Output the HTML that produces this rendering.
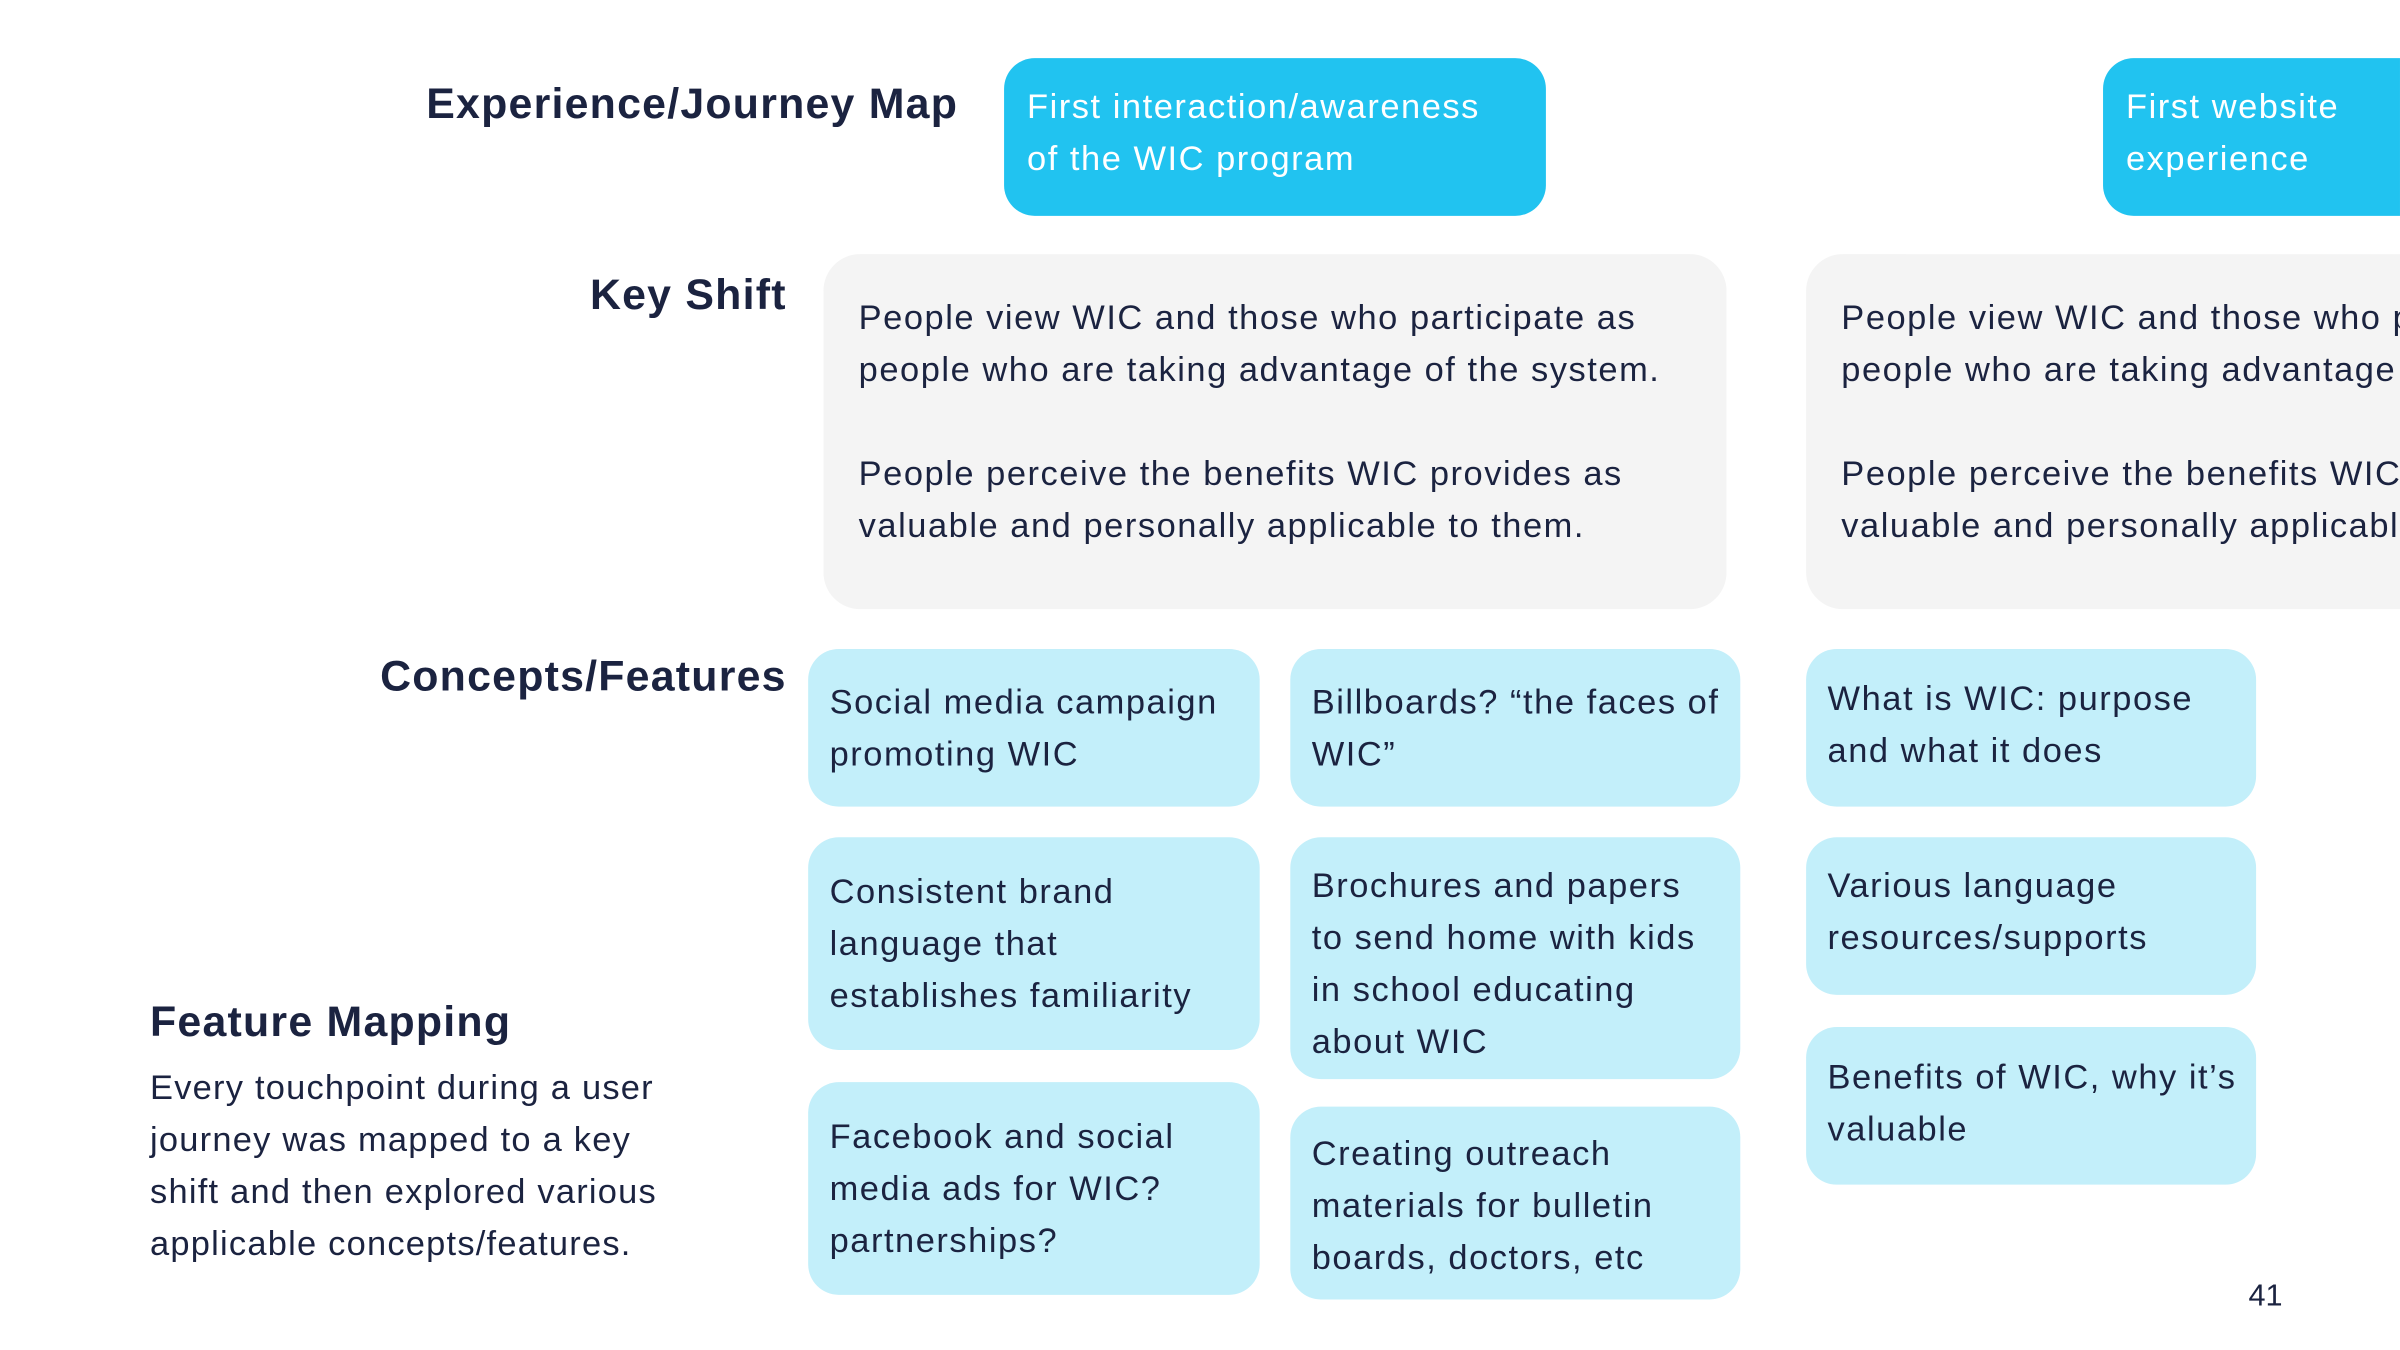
<!DOCTYPE html>
<html><head><meta charset="utf-8"><style>
html,body{margin:0;padding:0;background:#fff;width:2400px;height:1350px;overflow:hidden}
#w{position:absolute;left:0;top:0;width:2400px;height:1350px;overflow:hidden}
#s{position:absolute;left:0;top:0;width:1568px;height:882px;overflow:hidden;transform:scale(1.5306);transform-origin:0 0;font-family:"Liberation Sans",sans-serif;color:#1b2340}
.h{position:absolute;font-weight:bold;font-size:28px;white-space:nowrap;line-height:34px;letter-spacing:0.8px}
.b{position:absolute;border-radius:20px;box-sizing:border-box;font-size:22.5px;line-height:34px;white-space:nowrap;padding-left:15px;letter-spacing:1px}
.blue{background:#21c3f0;color:#fff;padding-top:15px}
.grey{background:#f4f4f4;padding-left:23px;padding-top:25px;border-radius:24px}
.c{background:#c3effa;display:flex;flex-direction:column;justify-content:center;padding-left:14px}
</style></head><body><div id="w"><div id="s">
<div class="h" style="right:942px;top:51px">Experience/Journey Map</div>
<div class="h" style="right:1054px;top:176px">Key Shift</div>
<div class="h" style="right:1054px;top:425px">Concepts/Features</div>

<div class="b blue" style="left:656px;top:38px;width:354px;height:103px">First interaction/awareness<br>of the WIC program</div>
<div class="b blue" style="left:1374px;top:38px;width:194px;height:103px;border-radius:20px 0 0 20px">First website<br>experience</div>

<div class="b grey" style="left:538px;top:166px;width:590px;height:232px">People view WIC and those who participate as<br>people who are taking advantage of the system.<br><br>People perceive the benefits WIC provides as<br>valuable and personally applicable to them.</div>
<div class="b grey" style="left:1180px;top:166px;width:388px;height:232px;overflow:hidden;border-radius:24px 0 0 24px">People view WIC and those who participate as<br>people who are taking advantage of the system.<br><br>People perceive the benefits WIC provides as<br>valuable and personally applicable to them.</div>

<div class="b c" style="left:528px;top:424px;width:295px;height:103px"><div>Social media campaign<br>promoting WIC</div></div>
<div class="b c" style="left:528px;top:547px;width:295px;height:139px"><div>Consistent brand<br>language that<br>establishes familiarity</div></div>
<div class="b c" style="left:528px;top:707px;width:295px;height:139px"><div>Facebook and social<br>media ads for WIC?<br>partnerships?</div></div>

<div class="b c" style="left:843px;top:424px;width:294px;height:103px"><div>Billboards? “the faces of<br>WIC”</div></div>
<div class="b c" style="left:843px;top:547px;width:294px;height:158px"><div style="padding-top:8px">Brochures and papers<br>to send home with kids<br>in school educating<br>about WIC</div></div>
<div class="b c" style="left:843px;top:723px;width:294px;height:126px"><div style="padding-top:4px">Creating outreach<br>materials for bulletin<br>boards, doctors, etc</div></div>

<div class="b c" style="left:1180px;top:424px;width:294px;height:103px"><div style="padding-bottom:4px">What is WIC: purpose<br>and what it does</div></div>
<div class="b c" style="left:1180px;top:547px;width:294px;height:103px"><div style="padding-bottom:6px">Various language<br>resources/supports</div></div>
<div class="b c" style="left:1180px;top:671px;width:294px;height:103px"><div style="padding-bottom:4px">Benefits of WIC, why it’s<br>valuable</div></div>

<div class="h" style="left:98px;top:651px">Feature Mapping</div>
<div style="position:absolute;left:98px;top:694px;font-size:22.5px;line-height:34px;white-space:nowrap;letter-spacing:0.8px">Every touchpoint during a user<br>journey was mapped to a key<br>shift and then explored various<br>applicable concepts/features.</div>
<div style="position:absolute;left:1469px;top:836px;font-size:20px">41</div>
</div></div></body></html>
